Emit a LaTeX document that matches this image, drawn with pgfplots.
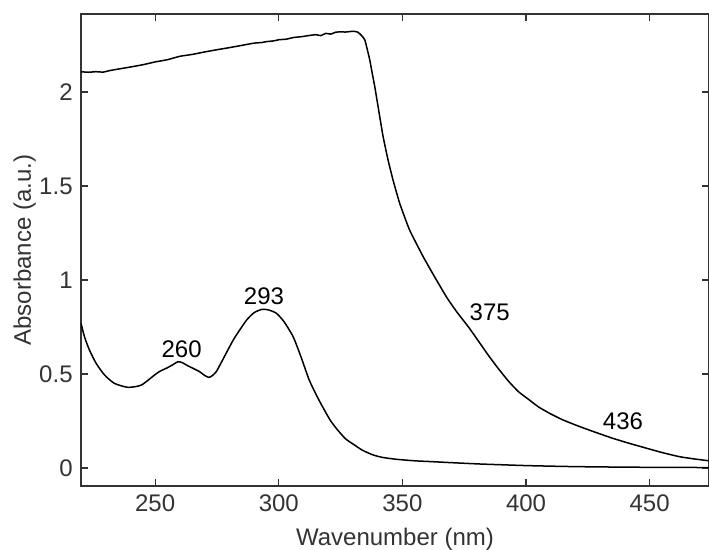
\documentclass[border=0pt]{standalone}
\usepackage{fontspec}
\setmainfont{Liberation Sans}
\usepackage{pgfplots}
\pgfplotsset{compat=1.18}
\definecolor{axgray}{rgb}{0.2,0.2,0.2}
\begin{document}
\fontsize{12}{14}\selectfont
\begin{tikzpicture}
\path[use as bounding box] (-40.5pt,-32pt) rectangle (314pt,243pt);
\begin{axis}[
  at={(0pt,0pt)}, anchor=south west,
  scale only axis, width=314pt, height=236pt,
  xmin=220, xmax=474, ymin=-0.096, ymax=2.415,
  xtick={250,300,350,400,450},
  ytick={0,0.5,1,1.5,2},
  yticklabels={0,0.5,1,1.5,2},
  tick align=inside, major tick length=3.5pt,
  axis line style={axgray, line width=0.6pt},
  every tick/.style={axgray, line width=0.6pt},
  tick label style={font=\fontsize{12}{14}\selectfont, text=axgray},
  label style={font=\fontsize{12}{14}\selectfont, text=axgray},
  /pgf/number format/assume math mode=true,
  xlabel={Wavenumber (nm)},
  ylabel={Absorbance (a.u.)},
  xlabel style={yshift=0pt},
  ylabel style={yshift=-6.5pt},
  clip=true,
]
\addplot[black, line width=0.75pt, smooth, tension=0.3] table {
220 2.108
223 2.105
226 2.108
229 2.106
232 2.115
236 2.124
240 2.133
245 2.145
250 2.160
255 2.172
260 2.190
265 2.200
270 2.213
275 2.225
280 2.236
285 2.248
290 2.260
293 2.263
295 2.268
298 2.272
300 2.278
303 2.281
306 2.290
309 2.294
312 2.300
315 2.305
317 2.300
319 2.312
321 2.308
323 2.318
325 2.320
327 2.319
329 2.322
330.5 2.323
332 2.318
333.5 2.300
334.8 2.277
336 2.215
336.8 2.170
338 2.085
338.8 2.030
340.6 1.887
342.2 1.762
344.2 1.638
346.2 1.532
348.9 1.408
352.9 1.266
358.4 1.124
362 1.040
367.8 0.910
372 0.830
377 0.745
381 0.670
385 0.595
389 0.525
393 0.460
397 0.405
401.5 0.360
405 0.325
409.6 0.290
415 0.255
421.7 0.220
428 0.190
435 0.158
442 0.130
448.7 0.105
455 0.082
462 0.060
468 0.048
474 0.038
};
\addplot[black, line width=0.75pt, smooth, tension=0.4] table {
220 0.770
221.4 0.698
223.4 0.628
226.1 0.557
229.5 0.495
233.5 0.450
239 0.429
244.4 0.441
249.8 0.495
252 0.515
254.5 0.530
257 0.548
259.2 0.565
261 0.560
263 0.545
265.3 0.530
268 0.512
270 0.492
271.7 0.482
273 0.490
274.7 0.512
276.5 0.555
278.7 0.610
281.6 0.681
284 0.730
287 0.787
290 0.826
293.3 0.844
296 0.840
299 0.823
302 0.780
305.8 0.698
309 0.590
312.3 0.468
315.5 0.380
318.4 0.309
321 0.250
323.8 0.202
327 0.155
330.6 0.122
334 0.093
338.2 0.069
342 0.056
347.6 0.046
355 0.038
361.1 0.034
370 0.028
381.3 0.021
390 0.017
401.5 0.012
420 0.007
441.9 0.004
460 0.003
474 0.002
};
\node[black] at (axis cs:260.7,0.631) {260};
\node[black] at (axis cs:294,0.915) {293};
\node[black] at (axis cs:385.3,0.831) {375};
\node[black] at (axis cs:439.2,0.246) {436};
\end{axis}
\end{tikzpicture}
\end{document}
